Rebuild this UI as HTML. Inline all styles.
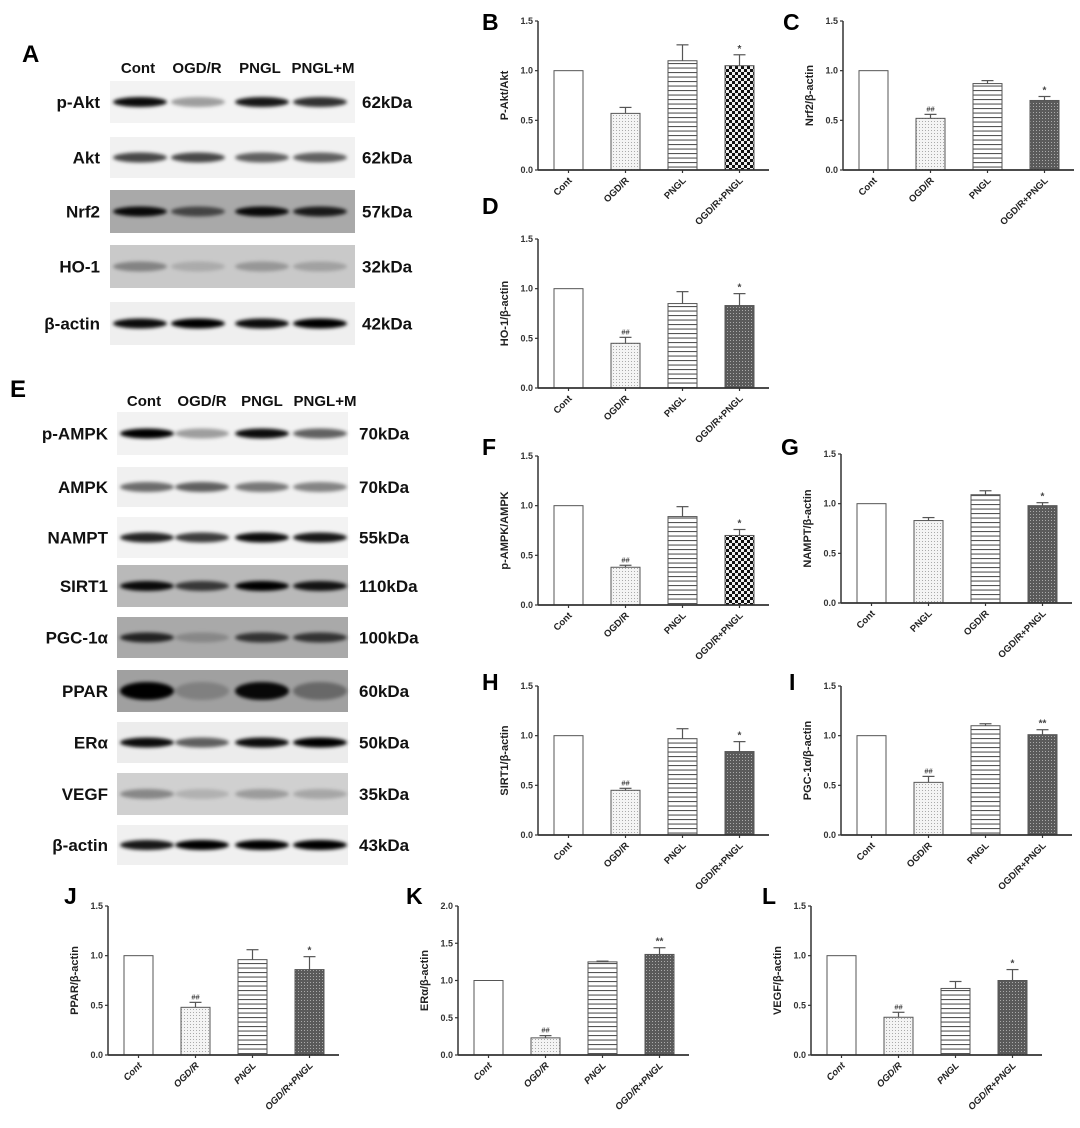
<!DOCTYPE html>
<html><head><meta charset="utf-8">
<style>
html,body{margin:0;padding:0;background:#fff;}
svg{display:block;font-family:"Liberation Sans",Arial,sans-serif;}
</style></head>
<body>
<svg id="fig" width="1080" height="1128" viewBox="0 0 1080 1128" xmlns="http://www.w3.org/2000/svg">
<defs>
<filter id="blur" x="-20%" y="-100%" width="140%" height="300%"><feGaussianBlur stdDeviation="1.8"/></filter>
<pattern id="pDots" width="3" height="3" patternUnits="userSpaceOnUse"><rect width="3" height="3" fill="#f4f4f4"/><rect x="1" y="1" width="1" height="1" fill="#aaa"/></pattern>
<pattern id="pStripes" width="4" height="4.5" patternUnits="userSpaceOnUse"><rect width="4" height="4.5" fill="#fff"/><rect y="0" width="4" height="1.1" fill="#555"/></pattern>
<pattern id="pCross" width="3" height="3" patternUnits="userSpaceOnUse"><rect width="3" height="3" fill="#5a5a5a"/><rect x="1" y="1" width="1" height="1" fill="#aaa"/></pattern>
<pattern id="pCheck" width="6" height="6" patternUnits="userSpaceOnUse"><rect width="6" height="6" fill="#111"/><rect width="3" height="3" fill="#eee"/><rect x="3" y="3" width="3" height="3" fill="#eee"/></pattern>
</defs>
<g id="root"></g>
</svg>
<script>
// ---- chart data ----
const catsStd = ["Cont","OGD/R","PNGL","OGD/R+PNGL"];
const catsG = ["Cont","PNGL","OGD/R","OGD/R+PNGL"];
const valsB = [1.0,0.57,1.10,1.05];
const errB = [0,0.06,0.16,0.11];
const sigB = ["","","","*"];
const valsC = [1.0,0.52,0.87,0.70];
const errC = [0,0.04,0.03,0.04];
const sigC = ["","##","","*"];
const valsD = [1.0,0.45,0.85,0.83];
const errD = [0,0.06,0.12,0.12];
const sigD = ["","##","","*"];
const valsF = [1.0,0.38,0.89,0.70];
const errF = [0,0.02,0.10,0.06];
const sigF = ["","##","","*"];
const valsG = [1.0,0.83,1.09,0.98];
const errG = [0,0.03,0.04,0.03];
const sigG = ["","","","*"];
const valsH = [1.0,0.45,0.97,0.84];
const errH = [0,0.02,0.10,0.10];
const sigH = ["","##","","*"];
const valsI = [1.0,0.53,1.10,1.01];
const errI = [0,0.06,0.02,0.05];
const sigI = ["","##","","**"];
const valsJ = [1.0,0.48,0.96,0.86];
const errJ = [0,0.05,0.10,0.13];
const sigJ = ["","##","","*"];
const valsK = [1.0,0.23,1.25,1.35];
const errK = [0,0.03,0.01,0.09];
const sigK = ["","##","","**"];
const valsL = [1.0,0.38,0.67,0.75];
const errL = [0,0.05,0.07,0.11];
const sigL = ["","##","","*"];
const ticks15 = ["0.0","0.5","1.0","1.5"];
const ticks20 = ["0.0","0.5","1.0","1.5","2.0"];

const NS="http://www.w3.org/2000/svg";
const root=document.getElementById('root');
function mk(tag,attrs,parent){const e=document.createElementNS(NS,tag);for(const k in attrs)e.setAttribute(k,attrs[k]);(parent||root).appendChild(e);return e;}

function chart(o){
  const g=mk('g',{});
  
  
  const x0=o.x, y0=o.y, H=149, L=231, maxV=o.max;
  const ys=v=>y0-v/maxV*H;
  const xc=i=>x0+16+14.5+i*57;
  const lt=mk('text',{x:o.lx,y:o.ly,'font-size':23,'font-weight':'bold',fill:'#000'},g);
  lt.textContent=o.id.toUpperCase();
  
  
  o.vals.forEach((v,i)=>{
    const b=mk('rect',{x:xc(i)-14.5,y:ys(v),width:29,height:y0-ys(v),fill:'url(#'+o.fills[i]+')',stroke:'#555','stroke-width':1},g);
    if(o.fills[i]==='none') b.setAttribute('fill','#fff');
    
    
    if(o.err[i]>0){
      const top=ys(v+o.err[i]);
      mk('line',{x1:xc(i),x2:xc(i),y1:ys(v),y2:top,stroke:'#555','stroke-width':1.2},g);
      const cap=mk('line',{x1:xc(i)-6,x2:xc(i)+6,y1:top,y2:top,stroke:'#555','stroke-width':1.2},g);
      
      
    }
    if(o.sig[i]){
      const s=mk('text',{x:xc(i),y:ys(v+o.err[i])-3,'font-size':o.sig[i]=='*'||o.sig[i]=='**'?10:7.5,'text-anchor':'middle',fill:'#444','font-weight':'bold'},g);
      s.textContent=o.sig[i];
      
      
    }
    mk('line',{x1:xc(i),x2:xc(i),y1:y0,y2:y0+3,stroke:'#333','stroke-width':1.2},g);
    const cl=mk('text',{transform:'translate('+(xc(i)+4)+','+(y0+11)+') rotate(-45)','font-size':9.5,'font-weight':'bold','text-anchor':'end',fill:'#222','font-style':o.italic?'italic':'normal'},g);
    cl.textContent=o.cats[i];
    
    
  });
  const ya=mk('line',{x1:x0,x2:x0,y1:y0,y2:y0-H,stroke:'#333','stroke-width':1.5},g);
  
  
  const xa=mk('line',{x1:x0,x2:x0+L,y1:y0,y2:y0,stroke:'#333','stroke-width':1.8},g);
  
  
  o.ticks.forEach(t=>{
    const v=parseFloat(t);
    mk('line',{x1:x0-3,x2:x0,y1:ys(v),y2:ys(v),stroke:'#333','stroke-width':1.2},g);
    const tl=mk('text',{x:x0-5,y:ys(v)+3,'font-size':9,'font-weight':'bold','text-anchor':'end',fill:'#333'},g);
    tl.textContent=t;
    
    
  });
  const yt=mk('text',{transform:'translate('+(x0-30)+','+(y0-H/2)+') rotate(-90)','font-size':11,'font-weight':'bold','text-anchor':'middle',fill:'#222'},g);
  yt.textContent=o.ylabel;
  
  
}
chart({id:'b',x:538,y:170,max:1.5,lx:482,ly:30,vals:valsB,err:errB,sig:sigB,cats:catsStd,ticks:ticks15,ylabel:'P-Akt/Akt',fills:['none','pDots','pStripes','pCheck']});
chart({id:'c',x:843,y:170,max:1.5,lx:783,ly:30,vals:valsC,err:errC,sig:sigC,cats:catsStd,ticks:ticks15,ylabel:'Nrf2/β-actin',fills:['none','pDots','pStripes','pCross']});
chart({id:'d',x:538,y:388,max:1.5,lx:482,ly:214,vals:valsD,err:errD,sig:sigD,cats:catsStd,ticks:ticks15,ylabel:'HO-1/β-actin',fills:['none','pDots','pStripes','pCross']});
chart({id:'f',x:538,y:605,max:1.5,lx:482,ly:455,vals:valsF,err:errF,sig:sigF,cats:catsStd,ticks:ticks15,ylabel:'p-AMPK/AMPK',fills:['none','pDots','pStripes','pCheck']});
chart({id:'g',x:841,y:603,max:1.5,lx:781,ly:455,vals:valsG,err:errG,sig:sigG,cats:catsG,ticks:ticks15,ylabel:'NAMPT/β-actin',fills:['none','pDots','pStripes','pCross']});
chart({id:'h',x:538,y:835,max:1.5,lx:482,ly:690,vals:valsH,err:errH,sig:sigH,cats:catsStd,ticks:ticks15,ylabel:'SIRT1/β-actin',fills:['none','pDots','pStripes','pCross']});
chart({id:'i',x:841,y:835,max:1.5,lx:789,ly:690,vals:valsI,err:errI,sig:sigI,cats:catsStd,ticks:ticks15,ylabel:'PGC-1α/β-actin',fills:['none','pDots','pStripes','pCross']});
chart({id:'j',x:108,y:1055,max:1.5,lx:64,ly:904,italic:true,vals:valsJ,err:errJ,sig:sigJ,cats:catsStd,ticks:ticks15,ylabel:'PPAR/β-actin',fills:['none','pDots','pStripes','pCross']});
chart({id:'k',x:458,y:1055,max:2.0,lx:406,ly:904,italic:true,vals:valsK,err:errK,sig:sigK,cats:catsStd,ticks:ticks20,ylabel:'ERα/β-actin',fills:['none','pDots','pStripes','pCross']});
chart({id:'l',x:811,y:1055,max:1.5,lx:762,ly:904,italic:true,vals:valsL,err:errL,sig:sigL,cats:catsStd,ticks:ticks15,ylabel:'VEGF/β-actin',fills:['none','pDots','pStripes','pCross']});

// ---- blots ----
const blotHeaders = ["Cont","OGD/R","PNGL","PNGL+M"];
const rowsA = [
 ["p-Akt",81,123,"#f3f3f3",[0.95,0.35,0.9,0.8],"62kDa"],
 ["Akt",137,178,"#f1f1f1",[0.7,0.7,0.6,0.6],"62kDa"],
 ["Nrf2",190,233,"#a9a9a9",[0.95,0.6,0.95,0.85],"57kDa"],
 ["HO-1",245,288,"#c9c9c9",[0.35,0.15,0.25,0.2],"32kDa"],
 ["β-actin",302,345,"#efefef",[0.95,1,0.95,1],"42kDa"]];
const rowsE = [
 ["p-AMPK",412,455,"#f2f2f2",[1,0.35,0.95,0.6],"70kDa"],
 ["AMPK",467,507,"#f0f0f0",[0.55,0.6,0.5,0.45],"70kDa"],
 ["NAMPT",517,558,"#f3f3f3",[0.85,0.75,0.95,0.9],"55kDa"],
 ["SIRT1",565,607,"#b9b9b9",[0.95,0.7,1,0.9],"110kDa"],
 ["PGC-1α",617,658,"#a9a9a9",[0.8,0.2,0.7,0.7],"100kDa"],
 ["PPAR",670,712,"#a0a0a0",[1,0.2,0.95,0.35],"60kDa"],
 ["ERα",722,763,"#ececec",[0.95,0.6,0.95,1],"50kDa"],
 ["VEGF",773,815,"#d0d0d0",[0.35,0.15,0.25,0.2],"35kDa"],
 ["β-actin",825,865,"#f0f0f0",[0.9,1,1,1],"43kDa"]];
function blot(id,letter,lx,ly,hy,hx,rows,sx0,sx1,lanes,labelR,kx){
  const g=mk('g',{});
  
  
  const lt=mk('text',{x:lx,y:ly,'font-size':24,'font-weight':'bold'},g);
  lt.textContent=letter;
  
  
  blotHeaders.forEach((h,i)=>{
    const t=mk('text',{x:hx[i],y:hy,'font-size':15,'font-weight':'bold','text-anchor':'middle',fill:'#111'},g);
    t.textContent=h;
    
    
  });
  rows.forEach(r=>{
    const [name,y1,y2,bg,ints,kd]=r;
    const cy=(y1+y2)/2;
    const rr=mk('rect',{x:sx0,y:y1,width:sx1-sx0,height:y2-y1,fill:bg},g);
    
    
    ints.forEach((v,i)=>{
      const h=name==='PPAR'?9:5;
      mk('ellipse',{cx:lanes[i],cy:cy,rx:27,ry:h,fill:'#000','fill-opacity':v,filter:'url(#blur)'},g);
    });
    const nl=mk('text',{x:labelR,y:cy+6,'font-size':17,'font-weight':'bold','text-anchor':'end',fill:'#111'},g);
    nl.textContent=name;
    
    
    const kl=mk('text',{x:kx,y:cy+6,'font-size':17,'font-weight':'bold',fill:'#111'},g);
    kl.textContent=kd;
    
    
  });
}
blot('a','A',22,62,73,[138,197,260,323],rowsA,110,355,[140,198,262,320],100,362);
blot('e','E',10,397,406,[144,202,262,325],rowsE,117,348,[147,202,262,320],108,359);
</script>
</body></html>
